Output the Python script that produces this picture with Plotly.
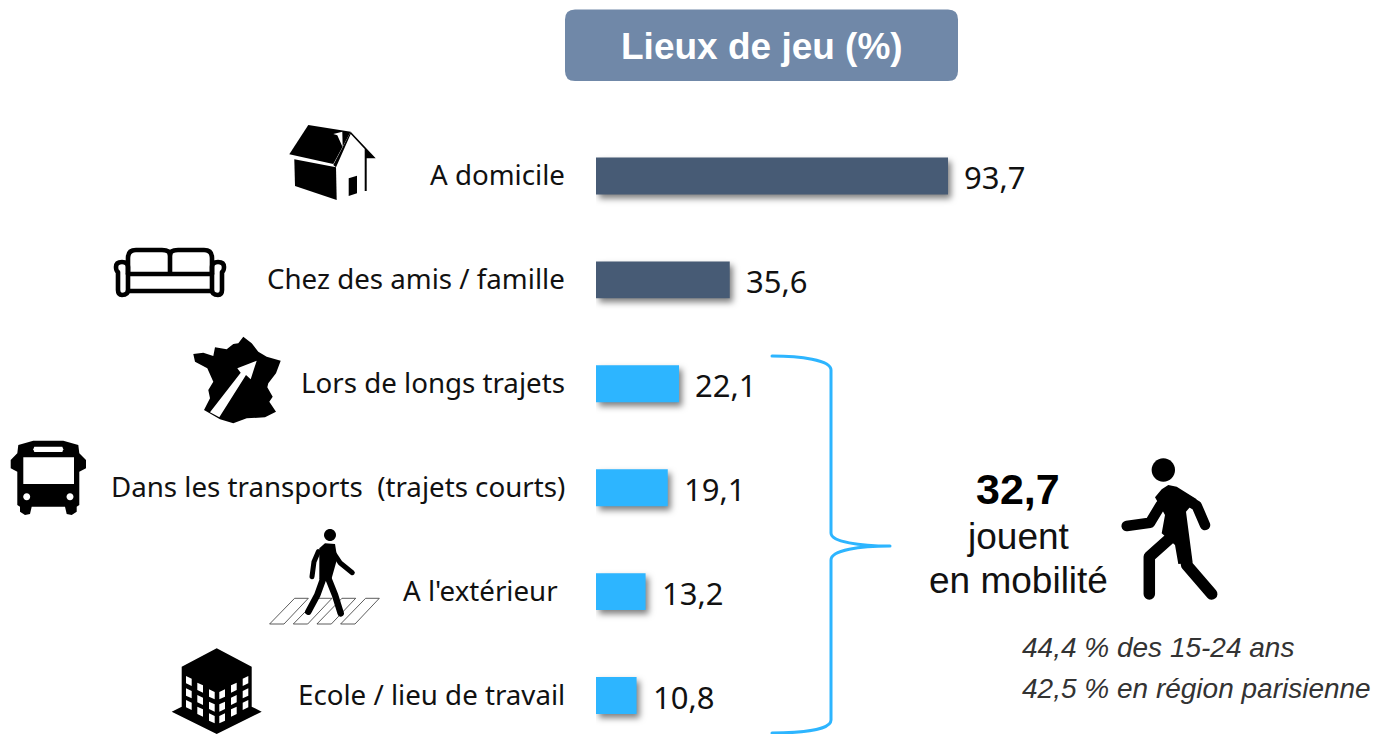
import plotly.graph_objects as go

W, H = 1375, 734

# ---- data ----
categories = ["A domicile", "Chez des amis / famille", "Lors de longs trajets",
              "Dans les transports  (trajets courts)", "A l'extérieur", "Ecole / lieu de travail"]
values = [93.7, 35.6, 22.1, 19.1, 13.2, 10.8]
bar_colors = ["#475B75", "#475B75", "#2DB5FF", "#2DB5FF", "#2DB5FF", "#2DB5FF"]
title_text = "Lieux de jeu (%)"
mobility_value = "32,7"
mobility_lines = ["jouent", "en mobilité"]
notes = ["44,4 % des 15-24 ans", "42,5 % en région parisienne"]

# ---- scales ----
X0, PX_PER_UNIT = 596, 3.757
Y0, ROW = 176, 103.9
xmax = (W - X0) / PX_PER_UNIT
y_range = [(H - Y0) / ROW, -Y0 / ROW]

LABEL_FONT = "Noto Sans"
fig = go.Figure()
fig.add_trace(go.Bar(y=categories, x=values, orientation="h", marker=dict(color=bar_colors, line=dict(width=0)),
                     width=0.355, hoverinfo="skip", showlegend=False))
fig.add_trace(go.Scatter(x=[0], y=[0], xaxis="x2", yaxis="y2", mode="markers", marker=dict(opacity=0),
                         hoverinfo="skip", showlegend=False))

ann = []
for c, v in zip(categories, values):
    shift = -36 if c.startswith("A l'") else -29
    ann.append(dict(x=0, y=c, xref="x", yref="y", text=c, showarrow=False, xanchor="right", xshift=shift, yshift=2,
                    font=dict(family=LABEL_FONT, size=27.7, color="#111")))
    ann.append(dict(x=v, y=c, xref="x", yref="y", text=f"{v}".replace(".", ","), showarrow=False, xanchor="left",
                    xshift=14, yshift=-1, font=dict(family=LABEL_FONT, size=31, color="#111")))


def txt(x, y, s, size, anchor="center", bold=False, italic=False, color="#111"):
    t = s
    if bold:
        t = f"<b>{t}</b>"
    if italic:
        t = f"<i>{t}</i>"
    ann.append(dict(x=x, y=y, xref="x2", yref="y2", text=t, showarrow=False, xanchor=anchor, yanchor="middle",
                    font=dict(family="Liberation Sans", size=size, color=color)))


txt(761.5, 46, title_text, 37, bold=True, color="white")
txt(1018, 489, mobility_value, 43, bold=True, color="#000")
txt(1018, 536.5, mobility_lines[0], 37)
txt(1018, 580.5, mobility_lines[1], 37)
txt(1020, 647, notes[0], 28, anchor="left", italic=True, color="#333")
txt(1020, 688, notes[1], 28, anchor="left", italic=True, color="#333")

shapes = []


def path(d, fill="black", lw=0, color="black"):
    shapes.append(dict(type="path", xref="x2", yref="y2", path=d, fillcolor=fill, line=dict(width=lw, color=color)))


def Z(ox, oy, pts):
    return [(ox + x / 3, oy + y / 3) for x, y in pts]


def poly(pts, closed=True):
    s = "M" + " L".join(f"{x:.1f},{y:.1f}" for x, y in pts)
    return s + (" Z" if closed else "")


def circle(cx, cy, r):
    k = 0.5523 * r
    return (f"M{cx-r:.2f},{cy:.2f} C{cx-r:.2f},{cy-k:.2f} {cx-k:.2f},{cy-r:.2f} {cx:.2f},{cy-r:.2f} "
            f"C{cx+k:.2f},{cy-r:.2f} {cx+r:.2f},{cy-k:.2f} {cx+r:.2f},{cy:.2f} "
            f"C{cx+r:.2f},{cy+k:.2f} {cx+k:.2f},{cy+r:.2f} {cx:.2f},{cy+r:.2f} "
            f"C{cx-k:.2f},{cy+r:.2f} {cx-r:.2f},{cy+k:.2f} {cx-r:.2f},{cy:.2f} Z")


def line(pts, lw, color="black"):
    path(poly(pts, False), fill="rgba(0,0,0,0)", lw=lw, color=color)


# title box
path("M575,9.5 H948 Q958,9.5 958,19.5 V71 Q958,81 948,81 H575 Q565,81 565,71 V19.5 Q565,9.5 575,9.5 Z", fill="#7088A8")

# bracket
path("M772,356 C800,356 831,360 831,370 V533 C831,542 860,546 890,546 C860,546 831,550 831,560 V720 "
     "C831,730 800,733 772,733", fill="rgba(0,0,0,0)", lw=3, color="#2DB5FF")

# house
o = (100, 110)
path(poly(Z(*o, [(625, 45), (752, 65), (700, 162), (568, 133)])))
path(poly(Z(*o, [(583, 148), (708, 172), (710, 270), (585, 228)])))
path(poly(Z(*o, [(700, 72), (727, 65), (728, 112), (712, 76)])), fill="white")
path(poly(Z(*o, [(746, 205), (771, 197), (771, 250), (746, 258)])))
path(poly(Z(*o, [(752, 65), (827, 145), (800, 145), (800, 243), (794, 243), (794, 117), (752, 72), (708, 172), (700, 165)])))

# sofa
SL = 4.6
NF = "rgba(0,0,0,0)"
path("M128,274 V258 Q128,250 136,250 H162 Q170,250 170,255 Q170,250 178,250 H204 Q212,250 212,258 V274", fill=NF, lw=SL)
path("M170,253 V274 M128,274 H212 M128,291 H212", fill=NF, lw=SL)
path("M122,295 Q128,295 128,290 V267 Q128,262 122,262 Q116,262 116,267 Q116,271 118,272 V290 Q118,295 122,295", fill=NF, lw=SL)
path("M218,295 Q212,295 212,290 V267 Q212,262 218,262 Q224,262 224,267 Q224,271 222,272 V290 Q222,295 218,295", fill=NF, lw=SL)

# France with arrow
o = (0, 330)
path(poly(Z(*o, [(580, 72), (610, 68), (640, 78), (645, 52), (680, 58), (700, 42), (715, 40), (730, 20), (755, 40),
                 (775, 65), (800, 80), (842, 92), (828, 130), (805, 160), (802, 172), (818, 200), (808, 215), (828, 245),
                 (795, 262), (740, 265), (700, 280), (660, 268), (612, 240), (630, 205), (625, 180), (640, 155),
                 (622, 115), (585, 95)])))
path(poly(Z(*o, [(630, 247), (722, 128), (712, 115), (770, 92), (752, 148), (738, 135), (658, 262)])), fill="white")

# bus
o = (0, 330)
path(poly(Z(*o, [(52, 370), (55, 345), (100, 332), (190, 332), (235, 345), (238, 370), (258, 390), (258, 415), (238, 425),
                 (238, 525), (230, 530), (230, 545), (215, 555), (200, 552), (195, 530), (95, 530), (90, 552), (75, 555),
                 (60, 545), (60, 530), (52, 525), (52, 425), (32, 415), (32, 390)])))
path(poly(Z(*o, [(70, 382), (222, 382), (222, 462), (70, 462)])), fill="white")
path(poly(Z(*o, [(103, 350), (187, 350), (190, 358), (187, 366), (103, 366), (100, 358)])), fill="white")
path(circle(26.7, 496.7, 3.5), fill="white")
path(circle(70, 496.7, 3.5), fill="white")

# crossing pedestrian
o = (160, 520)
for dx in [0, 71, 142, 213]:
    path(poly(Z(*o, [(330 + dx, 312), (372 + dx, 312), (445 + dx, 235), (405 + dx, 235)])), fill="white", lw=0.8, color="#333")
path(circle(160 + 510 / 3, 520 + 45 / 3, 6))
path(poly(Z(*o, [(478, 85), (495, 70), (525, 72), (532, 115), (512, 185), (478, 178)])))
line(Z(*o, [(475, 95), (462, 125), (456, 170)]), 5)
line(Z(*o, [(525, 105), (540, 128), (577, 158)]), 5)
line(Z(*o, [(490, 175), (472, 225), (445, 275)]), 6.5)
line(Z(*o, [(505, 175), (525, 225), (542, 280)]), 6.5)

# building
o = (160, 520)
path(poly(Z(*o, [(170, 385), (275, 440), (275, 560), (305, 575), (170, 642), (35, 575), (65, 560), (65, 440)])))
for r, dy in enumerate([0, 37, 72]):
    for cx, cy in [(78, 468), (112, 488), (147, 508)]:
        path(poly(Z(*o, [(cx, cy + dy), (cx + 17, cy + dy + 8), (cx + 17, cy + dy + 30), (cx, cy + dy + 22)])), fill="white")
    for cx, cy in [(178, 508), (213, 488), (248, 468)]:
        path(poly(Z(*o, [(cx, cy + dy + 8), (cx + 17, cy + dy), (cx + 17, cy + dy + 22), (cx, cy + dy + 30)])), fill="white")

# walker
o = (1100, 440)
path(circle(1100 + 190 / 3, 440 + 90 / 3, 11.7))
path(poly(Z(*o, [(165, 172), (185, 148), (205, 135), (230, 140), (290, 178), (258, 215), (278, 368), (235, 372),
                 (225, 315), (185, 280), (195, 225)])))
line(Z(*o, [(148, 462), (148, 350), (215, 290)]), 11.5)
line(Z(*o, [(335, 462), (260, 375), (248, 300)]), 11.5)
line(Z(*o, [(235, 165), (290, 197), (315, 255)]), 10.5)
line(Z(*o, [(80, 258), (150, 248), (182, 195)]), 10.5)

fig.update_layout(
    width=W, height=H, margin=dict(l=0, r=0, t=0, b=0), paper_bgcolor="white", plot_bgcolor="rgba(0,0,0,0)",
    showlegend=False, bargap=0.645,
    xaxis=dict(domain=[X0 / W, 1], range=[0, xmax], visible=False, fixedrange=True),
    yaxis=dict(domain=[0, 1], range=y_range, type="category", categoryorder="array", categoryarray=categories,
               visible=False, fixedrange=True),
    xaxis2=dict(domain=[0, 1], range=[0, W], visible=False, anchor="y2", fixedrange=True),
    yaxis2=dict(domain=[0, 1], range=[H, 0], visible=False, anchor="x2", overlaying="y", fixedrange=True),
    annotations=ann, shapes=shapes,
)

post = """
document.body.style.margin='0';
var st=document.createElement('style');
st.textContent='.shapelayer path{stroke-linecap:round;stroke-linejoin:round}'+
 '.barlayer .point path{filter:drop-shadow(3px 4px 3px rgba(0,0,0,.5))}';
document.head.appendChild(st);
"""
fig.write_html("out.html", post_script=post, config=dict(displayModeBar=False))
